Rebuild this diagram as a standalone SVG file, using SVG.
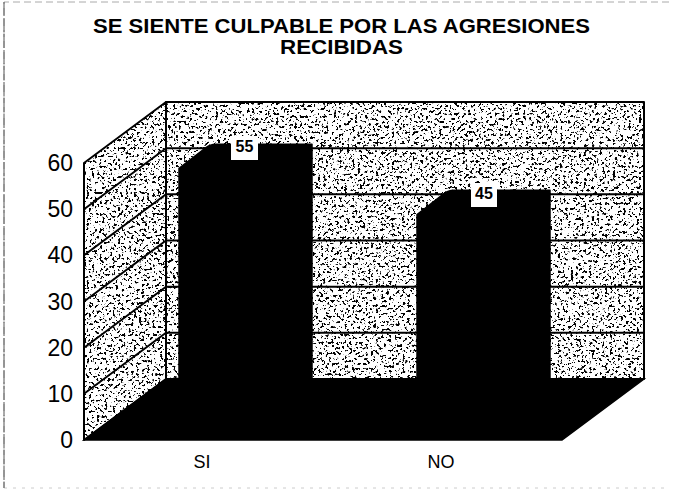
<svg xmlns="http://www.w3.org/2000/svg" width="673" height="492" viewBox="0 0 673 492">
<style>
.title{font-family:"Liberation Sans",Arial,sans-serif;font-weight:bold;font-size:20.5px;fill:#000;text-anchor:middle}
.ytick{font-family:"Liberation Sans",Arial,sans-serif;font-size:23px;fill:#000;text-anchor:end}
.cat{font-family:"Liberation Sans",Arial,sans-serif;font-size:18px;fill:#000;text-anchor:middle}
.val{font-family:"Liberation Sans",Arial,sans-serif;font-weight:bold;font-size:16px;fill:#000;text-anchor:middle}
.wall{fill:#fff;filter:url(#speck)}
.edge{fill:none;stroke:#000;stroke-width:2;stroke-linejoin:round}
.grid{fill:none;stroke:#000;stroke-width:2}
.bar{fill:#000;stroke:#000;stroke-width:1.5;stroke-linejoin:round}
.lbl{fill:#fff}
</style>
<defs>
<filter id="speck" x="0" y="0" width="1" height="1" color-interpolation-filters="sRGB">
<feTurbulence type="fractalNoise" baseFrequency="0.38" numOctaves="3" seed="11" result="noise"/>
<feColorMatrix in="noise" type="matrix" values="0 0 0 0 0  0 0 0 0 0  0 0 0 0 0  -18 0 0 0 7.5" result="dots"/>
<feComposite in="dots" in2="SourceGraphic" operator="in" result="clipped"/>
<feMerge><feMergeNode in="SourceGraphic"/><feMergeNode in="clipped"/></feMerge>
</filter>
</defs>
<rect x="0" y="0" width="673" height="492" fill="#fff"/>
<g id="frame">
<path d="M4,488V2H669" fill="none" stroke="#aaa" stroke-width="1" stroke-dasharray="7 4"/>
<path d="M4,488H669" fill="none" stroke="#ccc" stroke-width="1" stroke-dasharray="3 6"/>
<line x1="4" y1="2" x2="4" y2="488" stroke="#555" stroke-width="1" stroke-dasharray="14 2"/>
</g>
<g id="title">
<text class="title" x="341.5" y="33" textLength="497" lengthAdjust="spacingAndGlyphs">SE SIENTE CULPABLE POR LAS AGRESIONES</text>
<text class="title" x="341.5" y="54" textLength="123" lengthAdjust="spacingAndGlyphs">RECIBIDAS</text>
</g>
<g id="walls">
<rect class="wall" x="166" y="102" width="478" height="277"/>
<polygon class="wall" points="84,440 84,163 166,102 166,379"/>
<g class="grid">
<path d="M166,332.8H644M166,286.7H644M166,240.5H644M166,194.3H644M166,148.2H644"/>
<path d="M84,393.8L166,332.8M84,347.7L166,286.7M84,301.5L166,240.5M84,255.3L166,194.3M84,209.2L166,148.2"/>
</g>
<rect class="edge" x="166" y="102" width="478" height="277"/>
<polygon class="edge" points="84,440 84,163 166,102 166,379"/>
</g>
<g id="floor">
<polygon points="84,440 562,440 644,379 166,379" fill="#000" stroke="#000" stroke-width="1.5"/>
</g>
<g id="bar-si">
<path class="bar" d="M179,423V168.4L206,147.5Q210,144.5 216,144.3H312V398L279,423Z"/>
<rect class="lbl" x="231" y="136" width="27" height="24"/>
<text class="val" x="244.5" y="152">55</text>
</g>
<g id="bar-no">
<path class="bar" d="M417,423V214.5L444,193.5Q448,190.3 454,190.2H550V398L517,423Z"/>
<rect class="lbl" x="471" y="183" width="26" height="24"/>
<text class="val" x="484" y="199">45</text>
</g>
<g id="y-axis">
<text class="ytick" x="73" y="448">0</text>
<text class="ytick" x="73" y="401.8">10</text>
<text class="ytick" x="73" y="355.7">20</text>
<text class="ytick" x="73" y="309.5">30</text>
<text class="ytick" x="73" y="263.3">40</text>
<text class="ytick" x="73" y="217.2">50</text>
<text class="ytick" x="73" y="171">60</text>
</g>
<g id="x-axis">
<text class="cat" x="202" y="468">SI</text>
<text class="cat" x="441" y="468">NO</text>
</g>
</svg>
